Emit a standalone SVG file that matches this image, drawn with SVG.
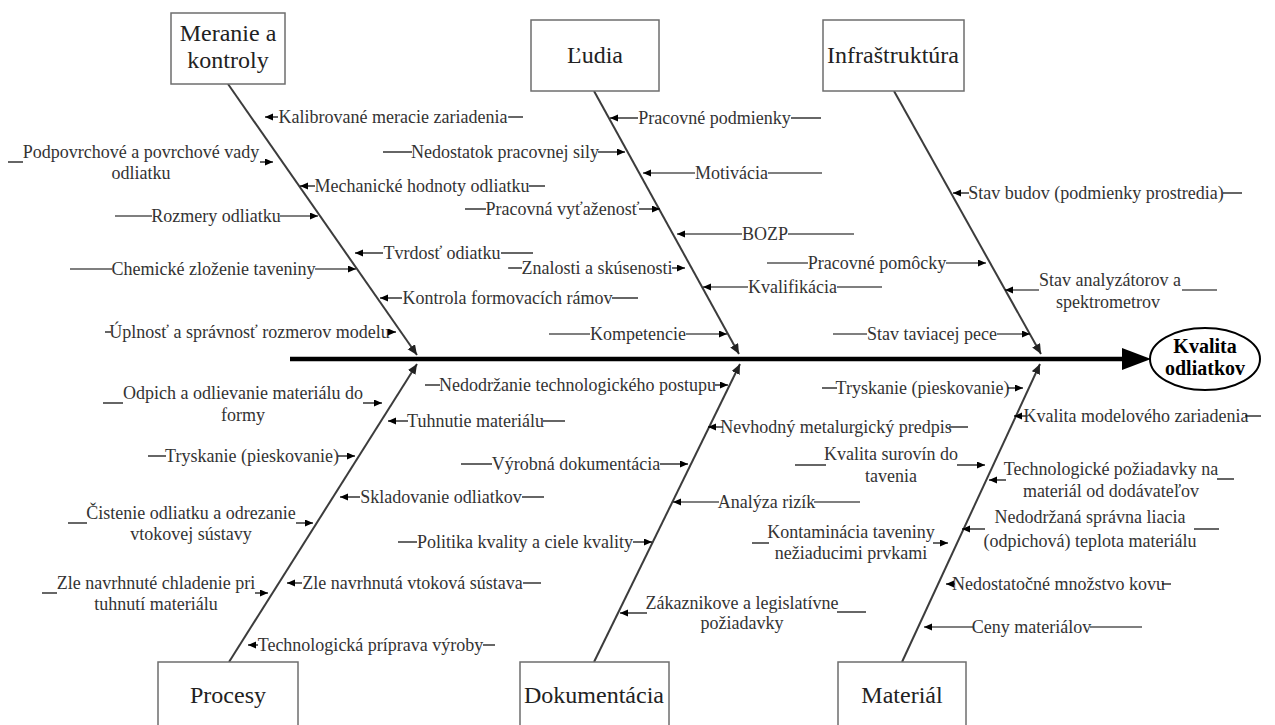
<svg xmlns="http://www.w3.org/2000/svg" width="1275" height="725" viewBox="0 0 1275 725">
<defs>
<marker id="ah" markerUnits="userSpaceOnUse" markerWidth="9" markerHeight="8" refX="8" refY="3.5" orient="auto"><path d="M0,0 L8,3.5 L0,7 z" fill="#000"/></marker>
<marker id="bh" markerUnits="userSpaceOnUse" markerWidth="11" markerHeight="10" refX="10" refY="4.5" orient="auto"><path d="M0,0 L10,4.5 L0,9 z" fill="#222"/></marker>
<style>
text{font-family:'Times New Roman','Liberation Serif',Tinos,'DejaVu Serif',serif}
.box{fill:#fff;stroke:#6e6e6e;stroke-width:1.5}
.bt{font-size:24px;fill:#222;text-anchor:middle}
.t{font-size:18px;fill:#333;text-anchor:middle}
.kv{font-size:20px;font-weight:bold;fill:#000;text-anchor:middle}
.br{stroke:#3c3c3c;stroke-width:2;fill:none;marker-end:url(#bh)}
.s{stroke:#000;stroke-width:1.2;fill:none}
.a{stroke:#000;stroke-width:1.2;fill:none;marker-end:url(#ah)}
</style>
</defs>
<rect width="1275" height="725" fill="#fff"/>

<g id="connectors">
<line x1="290" y1="359" x2="1125" y2="359" stroke="#000" stroke-width="4.5"/>
<path d="M1122,348 L1151,359 L1122,370 z" fill="#000"/>
<line class="br" x1="228" y1="84" x2="417" y2="355"/>
<line class="br" x1="594" y1="91" x2="739" y2="354"/>
<line class="br" x1="894" y1="91" x2="1041" y2="354"/>
<line class="br" x1="229" y1="662" x2="417" y2="364"/>
<line class="br" x1="594" y1="662" x2="740" y2="364"/>
<line class="br" x1="902" y1="662" x2="1040" y2="364"/>
</g>

<g id="node-meranie">
<rect class="box" x="171" y="13" width="114" height="71"/>
<text class="bt" x="228" y="41">Meranie a</text>
<text class="bt" x="228" y="68">kontroly</text>
</g>
<g id="node-ludia">
<rect class="box" x="531" y="20" width="128" height="71"/>
<text class="bt" x="595" y="63">Ľudia</text>
</g>
<g id="node-infra">
<rect class="box" x="823" y="20" width="141" height="71"/>
<text class="bt" x="893" y="63">Infraštruktúra</text>
</g>
<g id="node-procesy">
<rect class="box" x="158" y="662" width="140" height="80"/>
<text class="bt" x="228" y="703">Procesy</text>
</g>
<g id="node-dokumentacia">
<rect class="box" x="520" y="662" width="149" height="80"/>
<text class="bt" x="594" y="703">Dokumentácia</text>
</g>
<g id="node-material">
<rect class="box" x="838" y="662" width="128" height="80"/>
<text class="bt" x="902" y="703">Materiál</text>
</g>
<g id="node-kvalita">
<ellipse cx="1205" cy="359" rx="55" ry="31" fill="#fff" stroke="#000" stroke-width="2"/>
<text class="kv" x="1205" y="353">Kvalita</text>
<text class="kv" x="1205" y="375">odliatkov</text>
</g>

<g id="causes-meranie">
<line class="a" x1="278" y1="117" x2="265" y2="117"/><text class="t" x="393" y="123">Kalibrované meracie zariadenia</text><line class="s" x1="508" y1="117" x2="523" y2="117"/>
<line class="s" x1="8" y1="162" x2="23" y2="162"/><text class="t" x="141" y="158">Podpovrchové a povrchové vady</text><text class="t" x="141" y="179">odliatku</text><line class="a" x1="260" y1="162" x2="273" y2="162"/>
<line class="a" x1="315" y1="186" x2="300" y2="186"/><text class="t" x="422" y="192">Mechanické hodnoty odliatku</text><line class="s" x1="529" y1="186" x2="545" y2="186"/>
<line class="s" x1="115" y1="216" x2="152" y2="216"/><text class="t" x="216" y="222">Rozmery odliatku</text><line class="a" x1="280" y1="216" x2="318" y2="216"/>
<line class="a" x1="383" y1="253" x2="355" y2="253"/><text class="t" x="442" y="259">Tvrdosť odiatku</text><line class="s" x1="501" y1="253" x2="533" y2="253"/>
<line class="s" x1="70" y1="269" x2="112" y2="269"/><text class="t" x="213.5" y="275">Chemické zloženie taveniny</text><line class="a" x1="315" y1="269" x2="356" y2="269"/>
<line class="a" x1="402" y1="298" x2="380" y2="298"/><text class="t" x="507.5" y="304">Kontrola formovacích rámov</text><line class="s" x1="612" y1="298" x2="638" y2="298"/>
<line class="s" x1="105" y1="332" x2="111" y2="332"/><text class="t" x="249.5" y="338">Úplnosť a správnosť rozmerov modelu</text><line class="a" x1="388" y1="332" x2="396" y2="332"/>
</g>

<g id="causes-ludia">
<line class="a" x1="638" y1="118" x2="610" y2="118"/><text class="t" x="714.5" y="124">Pracovné podmienky</text><line class="s" x1="791" y1="118" x2="821" y2="118"/>
<line class="s" x1="383" y1="152" x2="412" y2="152"/><text class="t" x="505" y="158">Nedostatok pracovnej sily</text><line class="a" x1="598" y1="152" x2="625" y2="152"/>
<line class="a" x1="695" y1="173" x2="643" y2="173"/><text class="t" x="731.5" y="179">Motivácia</text><line class="s" x1="768" y1="173" x2="822" y2="173"/>
<line class="s" x1="465" y1="209" x2="486" y2="209"/><text class="t" x="562.5" y="215">Pracovná vyťaženosť</text><line class="a" x1="639" y1="209" x2="660" y2="209"/>
<line class="a" x1="742" y1="234" x2="677" y2="234"/><text class="t" x="765" y="240">BOZP</text><line class="s" x1="788" y1="234" x2="854" y2="234"/>
<line class="s" x1="767" y1="263" x2="808" y2="263"/><text class="t" x="877" y="269">Pracovné pomôcky</text><line class="a" x1="946" y1="263" x2="986" y2="263"/>
<line class="s" x1="508" y1="268" x2="522" y2="268"/><text class="t" x="597" y="274">Znalosti a skúsenosti</text><line class="a" x1="672" y1="268" x2="685" y2="268"/>
<line class="a" x1="748" y1="287" x2="703" y2="287"/><text class="t" x="792.5" y="293">Kvalifikácia</text><line class="s" x1="837" y1="287" x2="882" y2="287"/>
<line class="s" x1="549" y1="334" x2="590" y2="334"/><text class="t" x="638" y="340">Kompetencie</text><line class="a" x1="686" y1="334" x2="727" y2="334"/>
</g>

<g id="causes-infra">
<line class="a" x1="969" y1="193" x2="953" y2="193"/><text class="t" x="1096" y="199">Stav budov (podmienky prostredia)</text><line class="s" x1="1223" y1="193" x2="1242" y2="193"/>
<line class="a" x1="1039" y1="290" x2="1005" y2="290"/><text class="t" x="1110" y="286">Stav analyzátorov a</text><text class="t" x="1108" y="308">spektrometrov</text><line class="s" x1="1182" y1="290" x2="1217" y2="290"/>
<line class="s" x1="833" y1="334" x2="867" y2="334"/><text class="t" x="932" y="340">Stav taviacej pece</text><line class="a" x1="997" y1="334" x2="1030" y2="334"/>
</g>

<g id="causes-procesy">
<line class="s" x1="103" y1="403" x2="123" y2="403"/><text class="t" x="243" y="399">Odpich a odlievanie materiálu do</text><text class="t" x="243" y="421">formy</text><line class="a" x1="363" y1="403" x2="382" y2="403"/>
<line class="a" x1="408" y1="421" x2="388" y2="421"/><text class="t" x="475.5" y="427">Tuhnutie materiálu</text><line class="s" x1="543" y1="421" x2="565" y2="421"/>
<line class="s" x1="148" y1="456" x2="166" y2="456"/><text class="t" x="252" y="462">Tryskanie (pieskovanie)</text><line class="a" x1="338" y1="456" x2="355" y2="456"/>
<line class="a" x1="360" y1="497" x2="340" y2="497"/><text class="t" x="441" y="503">Skladovanie odliatkov</text><line class="s" x1="522" y1="497" x2="544" y2="497"/>
<line class="s" x1="68" y1="523" x2="87" y2="523"/><text class="t" x="191" y="519">Čistenie odliatku a odrezanie</text><text class="t" x="191" y="540">vtokovej sústavy</text><line class="a" x1="296" y1="523" x2="313" y2="523"/>
<line class="a" x1="302" y1="583" x2="287" y2="583"/><text class="t" x="412.5" y="589">Zle navrhnutá vtoková sústava</text><line class="s" x1="523" y1="583" x2="541" y2="583"/>
<line class="s" x1="42" y1="593" x2="57" y2="593"/><text class="t" x="156" y="589">Zle navrhnuté chladenie pri</text><text class="t" x="156" y="610">tuhnutí materiálu</text><line class="a" x1="255" y1="593" x2="268" y2="593"/>
<line class="a" x1="258" y1="645" x2="248" y2="645"/><text class="t" x="370.5" y="651">Technologická príprava výroby</text><line class="s" x1="483" y1="645" x2="495" y2="645"/>
</g>

<g id="causes-dokumentacia">
<line class="s" x1="425" y1="385" x2="440" y2="385"/><text class="t" x="577.5" y="391">Nedodržanie technologického postupu</text><line class="a" x1="715" y1="385" x2="728" y2="385"/>
<line class="a" x1="723" y1="427" x2="708" y2="427"/><text class="t" x="836" y="433">Nevhodný metalurgický predpis</text><line class="s" x1="949" y1="427" x2="968" y2="427"/>
<line class="s" x1="461" y1="464" x2="492" y2="464"/><text class="t" x="576" y="470">Výrobná dokumentácia</text><line class="a" x1="660" y1="464" x2="688" y2="464"/>
<line class="a" x1="719" y1="502" x2="673" y2="502"/><text class="t" x="766.5" y="508">Analýza rizík</text><line class="s" x1="814" y1="502" x2="860" y2="502"/>
<line class="s" x1="398" y1="542" x2="417" y2="542"/><text class="t" x="525" y="548">Politika kvality a ciele kvality</text><line class="a" x1="633" y1="542" x2="652" y2="542"/>
<line class="a" x1="647" y1="613" x2="620" y2="613"/><text class="t" x="742" y="609">Zákaznikove a legislatívne</text><text class="t" x="742" y="629">požiadavky</text><line class="s" x1="837" y1="612" x2="866" y2="612"/>
</g>

<g id="causes-material">
<line class="s" x1="822" y1="388" x2="837" y2="388"/><text class="t" x="922.5" y="394">Tryskanie (pieskovanie)</text><line class="a" x1="1008" y1="388" x2="1023" y2="388"/>
<line class="a" x1="1027" y1="416" x2="1014" y2="416"/><text class="t" x="1136" y="422">Kvalita modelového zariadenia</text><line class="s" x1="1245" y1="416" x2="1261" y2="416"/>
<line class="s" x1="795" y1="465" x2="826" y2="465"/><text class="t" x="891" y="460">Kvalita surovín do</text><text class="t" x="891" y="482">tavenia</text><line class="a" x1="957" y1="465" x2="985" y2="465"/>
<line class="a" x1="1006" y1="480" x2="989" y2="480"/><text class="t" x="1111" y="475">Technologické požiadavky na</text><text class="t" x="1111" y="497">materiál od dodávateľov</text><line class="s" x1="1217" y1="479" x2="1234" y2="479"/>
<line class="a" x1="985" y1="529" x2="962" y2="529"/><text class="t" x="1090" y="523">Nedodržaná správna liacia</text><text class="t" x="1090" y="547">(odpichová) teplota materiálu</text><line class="s" x1="1194" y1="529" x2="1219" y2="529"/>
<line class="s" x1="752" y1="543" x2="769" y2="543"/><text class="t" x="851" y="538">Kontaminácia taveniny</text><text class="t" x="851" y="559">nežiaducimi prvkami</text><line class="a" x1="933" y1="543" x2="948" y2="543"/>
<line class="a" x1="955" y1="584" x2="946" y2="584"/><text class="t" x="1058.5" y="590">Nedostatočné množstvo kovu</text><line class="s" x1="1162" y1="584" x2="1171" y2="584"/>
<line class="a" x1="973" y1="627" x2="924" y2="627"/><text class="t" x="1031.5" y="633">Ceny materiálov</text><line class="s" x1="1090" y1="627" x2="1142" y2="627"/>
</g>
</svg>
